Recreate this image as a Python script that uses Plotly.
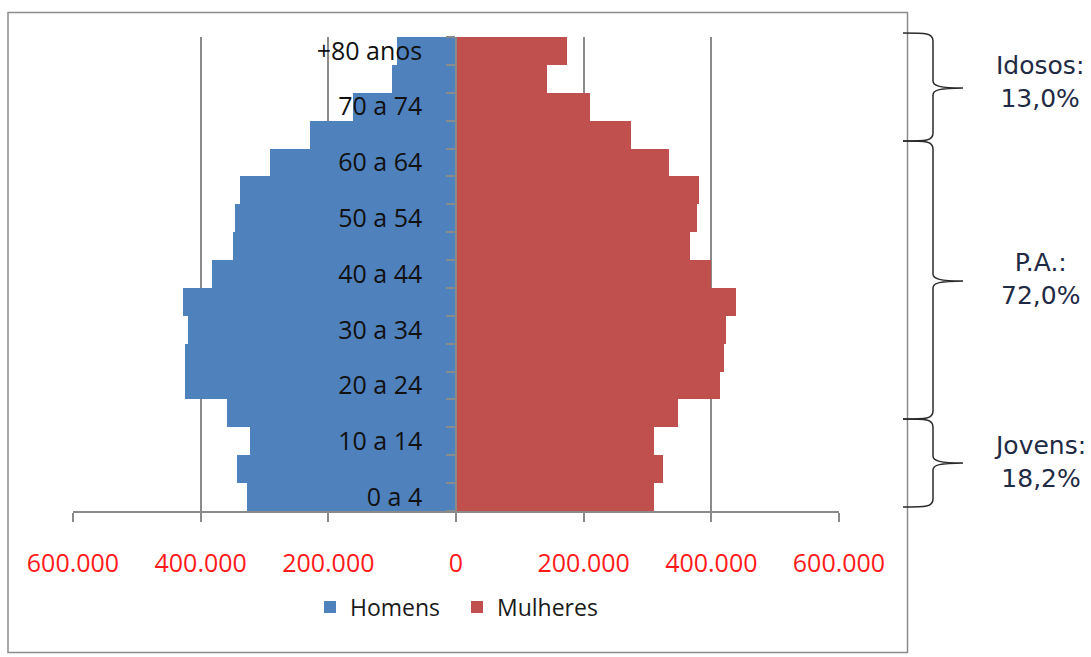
import plotly.graph_objects as go

ages = ["0 a 4", "5 a 9", "10 a 14", "15 a 19", "20 a 24", "25 a 29", "30 a 34",
        "35 a 39", "40 a 44", "45 a 49", "50 a 54", "55 a 59", "60 a 64", "65 a 69",
        "70 a 74", "75 a 79", "+80 anos"]
homens = [328000, 343000, 322000, 359000, 425000, 425000, 420000, 428000, 382000,
          350000, 347000, 338000, 292000, 229000, 162000, 101000, 93000]
mulheres = [310000, 324000, 310000, 348000, 413000, 420000, 423000, 438000, 400000,
            366000, 377000, 381000, 334000, 274000, 210000, 143000, 174000]
x_tickvals = [-600000, -400000, -200000, 0, 200000, 400000, 600000]
x_ticktext = ["600.000", "400.000", "200.000", "0", "200.000", "400.000", "600.000"]
groups = ["Idosos:<br>13,0%", "P.A.:<br>72,0%", "Jovens:<br>18,2%"]

W, H = 1091, 657
L, R, T, B = 73, 252, 37, 146
PW, PH = W - L - R, H - T - B

def px(xp):
    return (xp - L) / PW

def py(yp):
    return (H - B - yp) / PH

ypos = list(range(len(ages)))

fig = go.Figure()
fig.add_trace(go.Bar(y=ypos, x=[-v for v in homens], orientation="h", name="Homens",
                     marker=dict(color="#4F81BD", line=dict(width=0)), width=1))
fig.add_trace(go.Bar(y=ypos, x=mulheres, orientation="h", name="Mulheres",
                     marker=dict(color="#C0504D", line=dict(width=0)), width=1))

# braces (decorations, pixel geometry)
def brace(top, bottom, mid):
    def P(a, b):
        return f"{px(a):.5f},{py(b):.5f}"
    path = (f"M {P(903, top)} C {P(926, top)} {P(933, top)} {P(933, top + 8)} "
            f"L {P(933, mid - 7)} C {P(933, mid - 2)} {P(940, mid)} {P(963, mid)} "
            f"C {P(940, mid)} {P(933, mid + 2)} {P(933, mid + 7)} "
            f"L {P(933, bottom - 8)} C {P(933, bottom)} {P(926, bottom)} {P(903, bottom)}")
    return dict(type="path", xref="paper", yref="paper", path=path,
                line=dict(color="#2b2b2b", width=1.5))

shapes = [
    dict(type="rect", xref="paper", yref="paper", x0=px(8), x1=px(907.5), y0=py(652.5), y1=py(12.5),
         line=dict(color="#8c8c8c", width=1.5), layer="below"),
    brace(33, 141, 88),
    brace(141, 419, 281),
    brace(419, 507, 463),
]

ann_y = [82, 279, 462]
annotations = [dict(xref="paper", yref="paper", x=px(1040), y=py(yy), text=t, showarrow=False,
                    xanchor="center", yanchor="middle", align="center",
                    font=dict(family="DejaVu Sans", size=25, color="#1f2a44"))
               for t, yy in zip(groups, ann_y)]

fig.update_layout(
    width=W, height=H,
    margin=dict(l=L, r=R, t=T, b=B),
    paper_bgcolor="white", plot_bgcolor="white",
    barmode="overlay", bargap=0,
    showlegend=True,
    legend=dict(orientation="h", x=px(457), xanchor="center", y=py(607), yanchor="middle",
                entrywidth=102, entrywidthmode="pixels",
                font=dict(family="Open Sans", size=23, color="#1a1a1a"), bgcolor="rgba(0,0,0,0)"),
    shapes=shapes,
    annotations=annotations,
    xaxis=dict(range=[-600000, 600000], tickmode="array", tickvals=x_tickvals, ticktext=x_ticktext,
               showgrid=True, gridcolor="#8a8a8a", gridwidth=1.5, zeroline=False,
               showline=True, linecolor="#8a8a8a", linewidth=1.5,
               ticks="outside", ticklen=9, tickcolor="#8a8a8a", tickwidth=1.5,
               tickfont=dict(family="Open Sans", size=25, color="#FF1A1A"),
               ticklabelstandoff=20, fixedrange=True),
    yaxis=dict(range=[-0.5, len(ages) - 0.5], anchor="free", position=0.5,
               tickmode="array", tickvals=ypos[::2], ticktext=ages[::2],
               ticks="", showgrid=False, zeroline=False,
               showline=True, linecolor="#8a8a8a", linewidth=1.5,
               minor=dict(tickmode="array", tickvals=[i - 0.5 for i in range(len(ages) + 1)],
                          ticks="outside", ticklen=9, tickcolor="#8a8a8a", tickwidth=1.5, showgrid=False),
               tickfont=dict(family="Open Sans", size=25, color="#111111"),
               ticklabelstandoff=28, layer="above traces", fixedrange=True),
)

fig.write_html("out.html", config={"displayModeBar": False},
               post_script="document.body.style.margin='0px';document.body.style.overflow='hidden';")
